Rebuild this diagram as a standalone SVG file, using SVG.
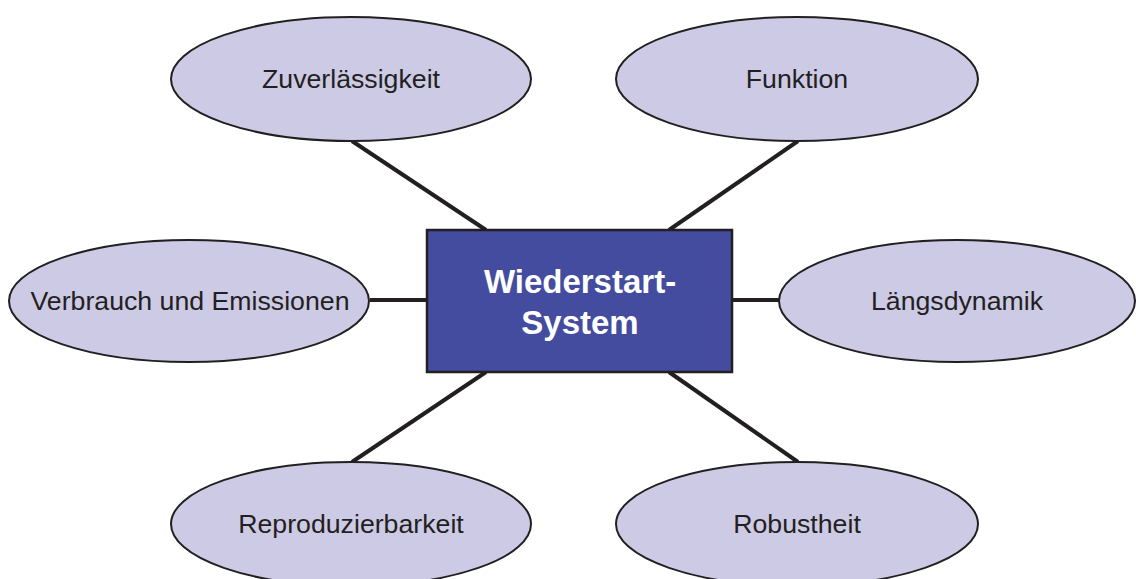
<svg xmlns="http://www.w3.org/2000/svg" width="1136" height="579" viewBox="0 0 1136 579">
  <style>
    .bubble { fill: #cdcae6; stroke: #231f20; stroke-width: 2; }
    .label { font-family: "Liberation Sans", Arial, sans-serif; font-size: 26.7px; fill: #231f20; text-anchor: middle; }
    .core { fill: #434c9e; stroke: #231f20; stroke-width: 2.5; }
    .core-label { font-family: "Liberation Sans", Arial, sans-serif; font-size: 33px; font-weight: bold; fill: #ffffff; text-anchor: middle; }
    .link { stroke: #231f20; stroke-width: 4; fill: none; }
  </style>
  <rect width="1136" height="579" fill="#ffffff"/>

  <g id="connectors">
    <line class="link" x1="352" y1="141" x2="486" y2="230"/>
    <line class="link" x1="798" y1="141" x2="669" y2="230"/>
    <line class="link" x1="370" y1="300" x2="427" y2="300"/>
    <line class="link" x1="732" y1="300" x2="779" y2="300"/>
    <line class="link" x1="486" y1="372" x2="352" y2="462"/>
    <line class="link" x1="669" y1="372" x2="798" y2="462"/>
  </g>

  <g id="zuverlaessigkeit">
    <ellipse class="bubble" cx="351" cy="79" rx="180" ry="62"/>
    <text class="label" x="351" y="88">Zuverlässigkeit</text>
  </g>

  <g id="funktion">
    <ellipse class="bubble" cx="797" cy="79" rx="181" ry="62"/>
    <text class="label" x="797" y="88">Funktion</text>
  </g>

  <g id="verbrauch">
    <ellipse class="bubble" cx="189" cy="301" rx="180" ry="61"/>
    <text class="label" x="190" y="310">Verbrauch und Emissionen</text>
  </g>

  <g id="laengsdynamik">
    <ellipse class="bubble" cx="957" cy="301" rx="178" ry="61"/>
    <text class="label" x="957" y="310">Längsdynamik</text>
  </g>

  <g id="reproduzierbarkeit">
    <ellipse class="bubble" cx="351" cy="524" rx="180" ry="62"/>
    <text class="label" x="351" y="533">Reproduzierbarkeit</text>
  </g>

  <g id="robustheit">
    <ellipse class="bubble" cx="797" cy="524" rx="181" ry="62"/>
    <text class="label" x="797" y="533">Robustheit</text>
  </g>

  <g id="wiederstart-system">
    <rect class="core" x="427" y="230" width="305" height="142"/>
    <text class="core-label" x="580" y="293">Wiederstart-</text>
    <text class="core-label" x="580" y="334">System</text>
  </g>
</svg>
